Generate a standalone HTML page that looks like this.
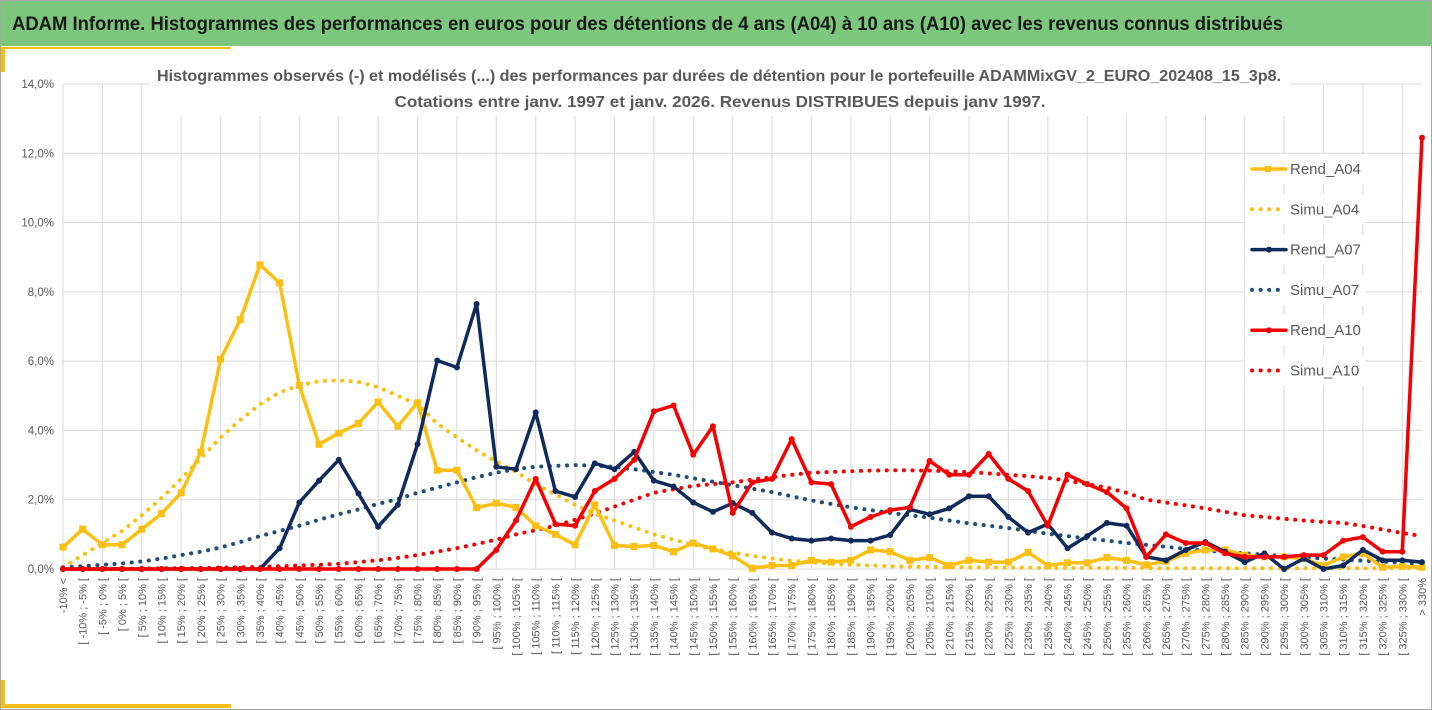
<!DOCTYPE html>
<html><head><meta charset="utf-8"><style>
html,body{margin:0;padding:0;background:#fff;}
svg{display:block;font-family:"Liberation Sans",sans-serif;}
</style></head><body>
<svg id="chart" width="1432" height="710" viewBox="0 0 1432 710">
<rect x="0.5" y="0.5" width="1431" height="709" fill="#fff" stroke="#a6a6a6"/>
<rect x="1" y="1" width="1430" height="45" fill="#7dc67d"/>
<text x="12" y="30" font-size="19" font-weight="bold" fill="#1a1a1a" textLength="1271" lengthAdjust="spacingAndGlyphs">ADAM Informe. Histogrammes des performances en euros pour des détentions de 4 ans (A04) à 10 ans (A10) avec les revenus connus distribués</text>
<rect x="1" y="47" width="4" height="25" fill="#f5be1a"/>
<rect x="1" y="47" width="230" height="2" fill="#f5be1a"/>
<rect x="1" y="680" width="4" height="28" fill="#f5be1a"/>
<rect x="1" y="704" width="230" height="4" fill="#f5be1a"/>
<g id="grid"></g>
<rect x="150" y="60" width="1140" height="56" fill="#fff"/>
<text x="719" y="81" text-anchor="middle" font-size="16" font-weight="bold" fill="#595959" textLength="1124" lengthAdjust="spacingAndGlyphs">Histogrammes observés (-) et modélisés (...) des performances par durées de détention pour  le portefeuille ADAMMixGV_2_EURO_202408_15_3p8.</text>
<text x="720" y="107" text-anchor="middle" font-size="16" font-weight="bold" fill="#595959" textLength="651" lengthAdjust="spacingAndGlyphs">Cotations  entre janv. 1997 et janv. 2026. Revenus DISTRIBUES depuis janv 1997.</text>
<g id="ylabels"></g>
<g id="xlabels"></g>
<g id="series"></g>
<g id="legend"></g>
</svg>
<script>
const categories = (function(){const c=["< -10%"];for(let a=-10;a<330;a+=5){c.push("[ "+a+"% ; "+(a+5)+"% [");}c.push("> 330%");return c;})();
categories[0]="-10% <";
const yTicks = [0,2,4,6,8,10,12,14];
const rendA04 = [0.63,1.15,0.7,0.7,1.15,1.6,2.2,3.38,6.06,7.2,8.78,8.26,5.3,3.6,3.92,4.2,4.82,4.12,4.8,2.85,2.85,1.77,1.9,1.78,1.25,1.0,0.7,1.85,0.68,0.65,0.68,0.5,0.75,0.58,0.38,0.02,0.1,0.1,0.25,0.2,0.25,0.55,0.5,0.25,0.33,0.1,0.25,0.2,0.2,0.48,0.1,0.18,0.18,0.33,0.25,0.12,0.22,0.45,0.55,0.55,0.4,0.35,0.35,0.3,0.1,0.35,0.45,0.05,0.08,0.05];
const simuA04 = [0.05,0.4,0.75,1.1,1.55,2.05,2.6,3.2,3.8,4.3,4.75,5.1,5.3,5.42,5.45,5.4,5.25,5.0,4.75,4.2,3.8,3.43,3.1,2.8,2.45,2.15,1.85,1.6,1.4,1.2,1.0,0.85,0.7,0.58,0.47,0.38,0.3,0.24,0.19,0.15,0.12,0.1,0.08,0.07,0.06,0.05,0.05,0.04,0.04,0.04,0.03,0.03,0.03,0.03,0.03,0.03,0.02,0.02,0.02,0.02,0.02,0.02,0.02,0.02,0.02,0.02,0.02,0.02,0.02,0.02];
const rendA07 = [0,0,0,0,0,0,0,0,0,0,0,0.6,1.92,2.55,3.15,2.18,1.22,1.85,3.6,6.02,5.82,7.65,2.95,2.88,4.52,2.25,2.08,3.05,2.88,3.38,2.55,2.38,1.92,1.65,1.9,1.62,1.05,0.88,0.82,0.88,0.82,0.82,0.98,1.72,1.58,1.75,2.1,2.1,1.5,1.05,1.3,0.6,0.95,1.33,1.25,0.35,0.25,0.55,0.78,0.5,0.2,0.45,0.0,0.3,0.0,0.1,0.55,0.25,0.25,0.2];
const simuA07 = [0.05,0.08,0.12,0.16,0.22,0.3,0.4,0.5,0.62,0.78,0.95,1.1,1.25,1.42,1.58,1.72,1.88,2.02,2.2,2.35,2.5,2.65,2.78,2.88,2.95,2.98,3.0,2.98,2.95,2.88,2.8,2.72,2.62,2.52,2.42,2.32,2.22,2.1,1.98,1.88,1.78,1.7,1.62,1.55,1.48,1.4,1.32,1.25,1.18,1.1,1.02,0.95,0.88,0.82,0.75,0.7,0.64,0.58,0.53,0.49,0.45,0.41,0.37,0.34,0.3,0.27,0.24,0.21,0.18,0.15];
const rendA10 = [0,0,0,0,0,0,0,0,0,0,0,0,0,0,0,0,0,0,0,0,0,0,0.55,1.4,2.6,1.3,1.25,2.25,2.6,3.15,4.55,4.72,3.3,4.12,1.62,2.5,2.6,3.75,2.5,2.45,1.22,1.5,1.7,1.78,3.12,2.72,2.72,3.32,2.6,2.25,1.25,2.72,2.45,2.22,1.75,0.35,1.0,0.75,0.75,0.45,0.35,0.35,0.35,0.4,0.4,0.82,0.92,0.5,0.5,12.45];
const simuA10 = [0,0,0,0.01,0.01,0.02,0.02,0.03,0.04,0.05,0.06,0.08,0.1,0.12,0.15,0.2,0.25,0.32,0.4,0.5,0.6,0.72,0.85,1.0,1.12,1.25,1.42,1.6,1.8,2.0,2.2,2.3,2.4,2.45,2.5,2.58,2.65,2.72,2.78,2.8,2.82,2.84,2.85,2.85,2.84,2.82,2.8,2.76,2.72,2.68,2.63,2.55,2.45,2.35,2.2,2.0,1.92,1.84,1.75,1.65,1.55,1.5,1.45,1.4,1.36,1.33,1.24,1.14,1.04,0.95];

const NS="http://www.w3.org/2000/svg";
const X0=63,X1=1422,Y0=569,YTOP=84,YMAX=14;
function xs(i){return X0+(X1-X0)*i/(categories.length-1);}
function ys(v){return Y0-(Y0-YTOP)*v/YMAX;}
function mk(tag,attrs,parent){const e=document.createElementNS(NS,tag);for(const k in attrs)e.setAttribute(k,attrs[k]);parent.appendChild(e);return e;}
const grid=document.getElementById('grid'),yl=document.getElementById('ylabels'),xl=document.getElementById('xlabels'),ser=document.getElementById('series'),leg=document.getElementById('legend');
yTicks.forEach(t=>{
  const l=mk('line',{x1:X0,x2:X1,y1:ys(t),y2:ys(t),stroke:'#d9d9d9','stroke-width':1},grid);
  
  
  const tx=mk('text',{x:54,y:ys(t)+4,'text-anchor':'end','font-size':11.5,fill:'#595959'},yl);
  tx.textContent=t.toFixed(1).replace('.',',')+'%';
  
  
});
categories.forEach((c,i)=>{
  if(i%2===0){
    const l=mk('line',{x1:xs(i),x2:xs(i),y1:YTOP,y2:Y0,stroke:'#d9d9d9','stroke-width':1},grid);
    
    
  }
  const x=xs(i)+4,y=578;
  const tx=mk('text',{x:x,y:y,transform:'rotate(-90 '+x+' '+y+')','text-anchor':'end','font-size':11,fill:'#595959'},xl);
  tx.textContent=c;
  
  
});
function drawSeries(vals,color,dotted,marker,name){
  const pts=vals.map((v,i)=>xs(i).toFixed(1)+','+ys(v).toFixed(1)).join(' ');
  const p=mk('polyline',{points:pts,fill:'none',stroke:color,'stroke-width':3.5,'stroke-linejoin':'round','stroke-linecap':'round'},ser);
  if(dotted){p.setAttribute('stroke-dasharray','0.1 8.5');p.setAttribute('stroke-width',4);}
  
  
  if(marker){
    vals.forEach((v,i)=>{
      let m;
      if(marker==='square'){m=mk('rect',{x:xs(i)-3.5,y:ys(v)-3.5,width:7,height:7,fill:color},ser);}
      else{m=mk('circle',{cx:xs(i),cy:ys(v),r:3,fill:color},ser);}
      
      
    });
  }
}
const YEL='#fbbf12',NAVY='#102a5c',DNAVY='#1f4e79',RED='#f40000';
drawSeries(simuA04,YEL,true,null,'simu-a04');
drawSeries(simuA07,DNAVY,true,null,'simu-a07');
drawSeries(simuA10,RED,true,null,'simu-a10');
drawSeries(rendA04,YEL,false,'square','rend-a04');
drawSeries(rendA07,NAVY,false,'circle','rend-a07');
drawSeries(rendA10,RED,false,'circle','rend-a10');
const legItems=[['Rend_A04',YEL,false,'square'],['Simu_A04',YEL,true],['Rend_A07',NAVY,false,'circle'],['Simu_A07',DNAVY,true],['Rend_A10',RED,false,'circle'],['Simu_A10',RED,true]];
legItems.forEach((it,k)=>{
  const y=169+k*40.3;
  const g=mk('g',{},leg);
  
  
  const bg=mk('rect',{x:1245,y:y-15,width:120,height:30,fill:'#fff'},g);
  
  
  const l=mk('line',{x1:1252,x2:1286,y1:y,y2:y,stroke:it[1],'stroke-width':3.5,'stroke-linecap':'round'},g);
  if(it[2]){l.setAttribute('stroke-dasharray','0.1 8.5');l.setAttribute('stroke-width',4);}
  
  
  if(it[3]==='square'){const m=mk('rect',{x:1265,y:y-3,width:6,height:6,fill:it[1]},g);}
  if(it[3]==='circle'){const m=mk('circle',{cx:1269,cy:y,r:3,fill:it[1]},g);}
  const t=mk('text',{x:1290,y:y+5,'font-size':15,fill:'#595959'},g);
  t.textContent=it[0];
  
  
});
</script>
</body></html>
